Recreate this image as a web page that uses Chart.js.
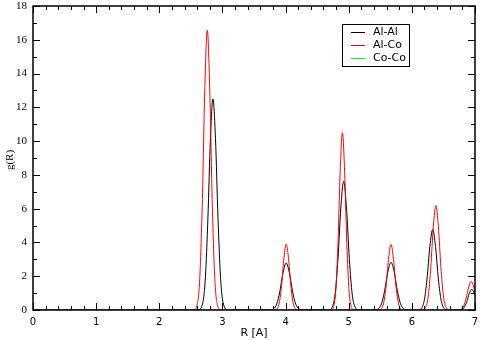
<!DOCTYPE html>
<html>
<head>
<meta charset="utf-8">
<script src="https://cdn.jsdelivr.net/npm/chart.js@4.4.0/dist/chart.umd.min.js"></script>
<style>
  html, body { margin: 0; padding: 0; background: #fff; }
</style>
</head>
<body>
<canvas id="c" width="480" height="340"></canvas>
<script>
// g(R) radial distribution
const seriesNames = ['Al-Al', 'Al-Co', 'Co-Co'];
const seriesColors = ['#000000', '#ff0000', '#00ff00'];

const alAlR = [0, 2.61, 2.69, 2.73, 2.77, 2.81, 2.85, 2.89, 2.93, 2.97, 3.01, 3.09,
  3.74, 3.81, 3.86, 3.91, 3.96, 4.01, 4.06, 4.11, 4.16, 4.21, 4.28,
  4.68, 4.74, 4.785, 4.83, 4.875, 4.92, 4.965, 5.01, 5.055, 5.10, 5.16,
  5.40, 5.47, 5.52, 5.57, 5.62, 5.67, 5.72, 5.77, 5.82, 5.87, 5.94,
  6.09, 6.15, 6.195, 6.24, 6.285, 6.33, 6.375, 6.42, 6.465, 6.51, 6.57,
  6.73, 6.79, 6.83, 6.87, 6.91, 6.95, 6.99, 7.0];
const alAlG = [0, 0, 0.45, 1.92, 5.44, 10.15, 12.5, 10.15, 5.44, 1.92, 0.45, 0,
  0, 0.07, 0.36, 1.11, 2.21, 2.78, 2.21, 1.11, 0.36, 0.07, 0,
  0, 0.18, 0.94, 3.01, 6.04, 7.62, 6.04, 3.01, 0.94, 0.18, 0,
  0, 0.08, 0.38, 1.16, 2.26, 2.82, 2.26, 1.16, 0.38, 0.08, 0,
  0, 0.1, 0.55, 1.83, 3.75, 4.77, 3.75, 1.83, 0.55, 0.1, 0,
  0, 0.03, 0.16, 0.5, 0.98, 1.22, 0.98, 0.86];

const alCoR = [0, 2.54, 2.60, 2.64, 2.68, 2.72, 2.76, 2.80, 2.84, 2.88, 2.92, 2.98,
  3.82, 3.87, 3.905, 3.94, 3.975, 4.01, 4.045, 4.08, 4.115, 4.15, 4.20,
  4.71, 4.76, 4.795, 4.83, 4.865, 4.90, 4.935, 4.97, 5.005, 5.04, 5.09,
  5.46, 5.51, 5.55, 5.59, 5.63, 5.67, 5.71, 5.75, 5.79, 5.83, 5.88,
  6.16, 6.22, 6.26, 6.30, 6.34, 6.38, 6.42, 6.46, 6.50, 6.54, 6.60,
  6.72, 6.78, 6.82, 6.86, 6.90, 6.94, 6.98, 7.0];
const alCoG = [0, 0, 0.32, 1.81, 6.18, 12.97, 16.58, 12.97, 6.18, 1.81, 0.32, 0,
  0, 0.1, 0.51, 1.58, 3.11, 3.9, 3.11, 1.58, 0.51, 0.1, 0,
  0, 0.21, 1.16, 3.94, 8.22, 10.5, 8.22, 3.94, 1.16, 0.21, 0,
  0, 0.06, 0.36, 1.35, 2.99, 3.89, 2.99, 1.35, 0.36, 0.06, 0,
  0, 0.17, 0.83, 2.53, 4.94, 6.18, 4.94, 2.53, 0.83, 0.17, 0,
  0, 0.05, 0.23, 0.70, 1.36, 1.70, 1.36, 1.03];

// Co-Co never leaves zero in this range (hidden under the axis)
const coCoR = [0, 7];
const coCoG = [0, 0];

const xRange = [0, 7];
const yRange = [0, 18];
const xMajor = 1, xMinor = 0.2;
const yMajor = 2, yMinor = 1;

const toPts = (rs, gs) => rs.map((r, i) => ({ x: r, y: gs[i] }));

// xmgrace-ish frame: box + inward ticks on all four sides
const frameTicks = {
  id: 'frameTicks',
  afterDatasetsDraw(chart) {
    const { ctx, chartArea: a, scales: { x, y } } = chart;
    ctx.save();
    ctx.strokeStyle = '#000';
    ctx.lineWidth = 1;
    ctx.beginPath();
    const nx = Math.round((xRange[1] - xRange[0]) / xMinor);
    for (let i = 0; i <= nx; i++) {
      const px = Math.round(x.getPixelForValue(xRange[0] + i * xMinor)) + 0.5;
      const len = (i % Math.round(xMajor / xMinor) === 0) ? 7 : 4;
      ctx.moveTo(px, a.bottom); ctx.lineTo(px, a.bottom - len);
      ctx.moveTo(px, a.top); ctx.lineTo(px, a.top + len);
    }
    const ny = Math.round((yRange[1] - yRange[0]) / yMinor);
    for (let i = 0; i <= ny; i++) {
      const py = Math.round(y.getPixelForValue(yRange[0] + i * yMinor)) + 0.5;
      const len = (i % Math.round(yMajor / yMinor) === 0) ? 7 : 4;
      ctx.moveTo(a.left, py); ctx.lineTo(a.left + len, py);
      ctx.moveTo(a.right, py); ctx.lineTo(a.right - len, py);
    }
    ctx.stroke();
    ctx.lineWidth = 1.5;
    ctx.strokeRect(a.left, a.top, a.right - a.left, a.bottom - a.top);
    ctx.restore();
  },
};

// boxed legend in the upper right + axis titles
const decor = {
  id: 'decor',
  afterDraw(chart) {
    const { ctx, chartArea: a } = chart;
    ctx.save();
    ctx.strokeStyle = '#000';
    ctx.lineWidth = 1;
    ctx.strokeRect(342.5, 24.5, 67, 42);
    ctx.font = '11px "DejaVu Sans"';
    ctx.textBaseline = 'middle';
    ctx.textAlign = 'left';
    chart.data.datasets.forEach((ds, i) => {
      const yy = 32.5 + i * 13;
      ctx.strokeStyle = ds.borderColor;
      ctx.beginPath(); ctx.moveTo(351, yy); ctx.lineTo(365, yy); ctx.stroke();
      ctx.fillStyle = '#000';
      ctx.fillText(ds.label, 373, yy);
    });
    ctx.textAlign = 'center';
    ctx.fillText('R [A]', (a.left + a.right) / 2, 333);
    ctx.font = '11px "Liberation Serif"';
    ctx.translate(10, (a.top + a.bottom) / 2 + 2);
    ctx.rotate(-Math.PI / 2);
    ctx.fillText('g(R)', 0, 0);
    ctx.restore();
  },
};

const sets = [[alAlR, alAlG], [alCoR, alCoG], [coCoR, coCoG]];

new Chart(document.getElementById('c'), {
  type: 'line',
  data: {
    datasets: sets.map(([r, g], i) => ({
      label: seriesNames[i],
      data: toPts(r, g),
      borderColor: seriesColors[i],
      borderWidth: 1,
      pointRadius: 0,
      fill: false,
      cubicInterpolationMode: 'monotone',
      order: 2 - i,
    })),
  },
  options: {
    responsive: false,
    animation: false,
    layout: { padding: { top: 6, right: 5, left: 0, bottom: 0 } },
    scales: {
      x: {
        type: 'linear',
        min: xRange[0], max: xRange[1],
        grid: { display: false, drawTicks: false },
        border: { display: false },
        ticks: { stepSize: xMajor, padding: 6, color: '#000', font: { family: 'DejaVu Sans', size: 10 } },
        afterFit(s) { s.height = 30; s.paddingLeft = 0; s.paddingRight = 0; },
      },
      y: {
        min: yRange[0], max: yRange[1],
        grid: { display: false, drawTicks: false },
        border: { display: false },
        ticks: { stepSize: yMajor, padding: 6, color: '#000', font: { family: 'Liberation Serif', size: 11 } },
        afterFit(s) { s.width = 33; s.paddingTop = 0; s.paddingBottom = 0; },
      },
    },
    plugins: { legend: { display: false }, tooltip: { enabled: false } },
  },
  plugins: [frameTicks, decor],
});
</script>
</body>
</html>
